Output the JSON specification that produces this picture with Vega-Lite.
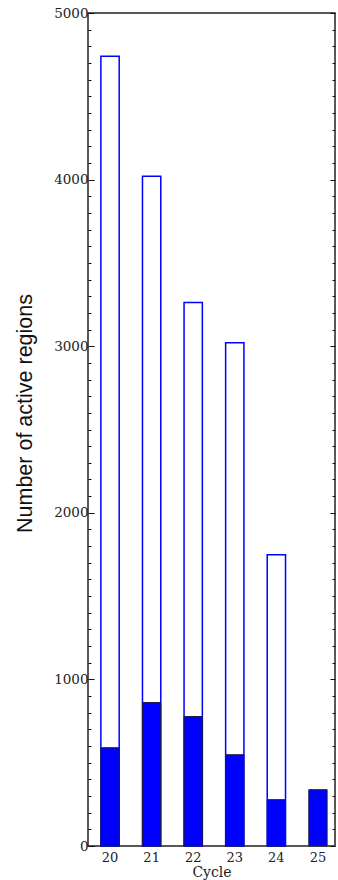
{
  "$schema": "https://vega.github.io/schema/vega-lite/v6.json",
  "width": 247,
  "height": 833,
  "autosize": {"type": "none"},
  "padding": {"left": 88, "top": 13, "right": 3, "bottom": 34},
  "background": "white",
  "data": {
    "values": [
      {"cycle": "20", "total": 4740, "strong": 590},
      {"cycle": "21", "total": 4020, "strong": 861},
      {"cycle": "22", "total": 3262, "strong": 777},
      {"cycle": "23", "total": 3020, "strong": 548},
      {"cycle": "24", "total": 1748, "strong": 278},
      {"cycle": "25", "total": null, "strong": 338}
    ]
  },
  "encoding": {
    "x": {
      "field": "cycle",
      "type": "ordinal",
      "scale": {"paddingInner": 0.56, "paddingOuter": 0.25, "align": 0.62},
      "axis": {
        "title": "Cycle",
        "labelAngle": 0,
        "ticks": false,
        "tickSize": 0,
        "domain": false,
        "labelFont": "DejaVu Serif",
        "labelFontSize": 13,
        "labelColor": "#222",
        "labelPadding": 5,
        "titleFont": "DejaVu Serif",
        "titleFontSize": 14,
        "titleFontWeight": "normal",
        "titleColor": "#222",
        "titleBaseline": "top",
        "titleY": 19
      }
    }
  },
  "layer": [
    {
      "mark": {"type": "bar", "fill": "white", "stroke": "#0000ff", "strokeWidth": 1.5},
      "encoding": {
        "y": {
          "field": "total",
          "type": "quantitative",
          "scale": {"domain": [0, 5000], "nice": false},
          "axis": {
            "orient": "left",
            "values": [0, 1000, 2000, 3000, 4000, 5000],
            "format": "d",
            "tickSize": -6,
            "labelPadding": 6,
            "labelFont": "DejaVu Serif",
            "labelFontSize": 13.5,
            "labelColor": "#222",
            "title": "Number of active regions",
            "titleFont": "Liberation Sans",
            "titleFontSize": 21.5,
            "titleFontWeight": "normal",
            "titleColor": "#111",
            "titleAngle": 270,
            "titleX": -57,
            "titleY": 400,
            "titleAlign": "center",
            "titleBaseline": "alphabetic"
          }
        }
      }
    },
    {
      "mark": {"type": "bar", "fill": "#0000ff", "stroke": "#1a1a40", "strokeWidth": 1},
      "encoding": {
        "y": {
          "field": "strong",
          "type": "quantitative",
          "axis": {
            "orient": "left",
            "values": [100, 200, 300, 400, 500, 600, 700, 800, 900, 1100, 1200, 1300, 1400, 1500, 1600, 1700, 1800, 1900, 2100, 2200, 2300, 2400, 2500, 2600, 2700, 2800, 2900, 3100, 3200, 3300, 3400, 3500, 3600, 3700, 3800, 3900, 4100, 4200, 4300, 4400, 4500, 4600, 4700, 4800, 4900],
            "tickSize": -3,
            "labels": false,
            "title": null
          }
        }
      }
    },
    {
      "mark": {"type": "bar", "fillOpacity": 0, "strokeOpacity": 0},
      "encoding": {
        "y": {
          "field": "strong",
          "type": "quantitative",
          "axis": {
            "orient": "right",
            "values": [0, 1000, 2000, 3000, 4000, 5000],
            "tickSize": -5,
            "labels": false,
            "title": null
          }
        }
      }
    },
    {
      "mark": {"type": "bar", "fillOpacity": 0, "strokeOpacity": 0},
      "encoding": {
        "y": {
          "field": "strong",
          "type": "quantitative",
          "axis": {
            "orient": "right",
            "values": [100, 200, 300, 400, 500, 600, 700, 800, 900, 1100, 1200, 1300, 1400, 1500, 1600, 1700, 1800, 1900, 2100, 2200, 2300, 2400, 2500, 2600, 2700, 2800, 2900, 3100, 3200, 3300, 3400, 3500, 3600, 3700, 3800, 3900, 4100, 4200, 4300, 4400, 4500, 4600, 4700, 4800, 4900],
            "tickSize": -3,
            "labels": false,
            "title": null
          }
        }
      }
    }
  ],
  "resolve": {"scale": {"y": "shared"}, "axis": {"y": "independent"}},
  "config": {
    "view": {"stroke": "#222", "strokeWidth": 1.5},
    "axis": {"grid": false, "domain": false, "tickColor": "#111", "tickWidth": 1}
  }
}
